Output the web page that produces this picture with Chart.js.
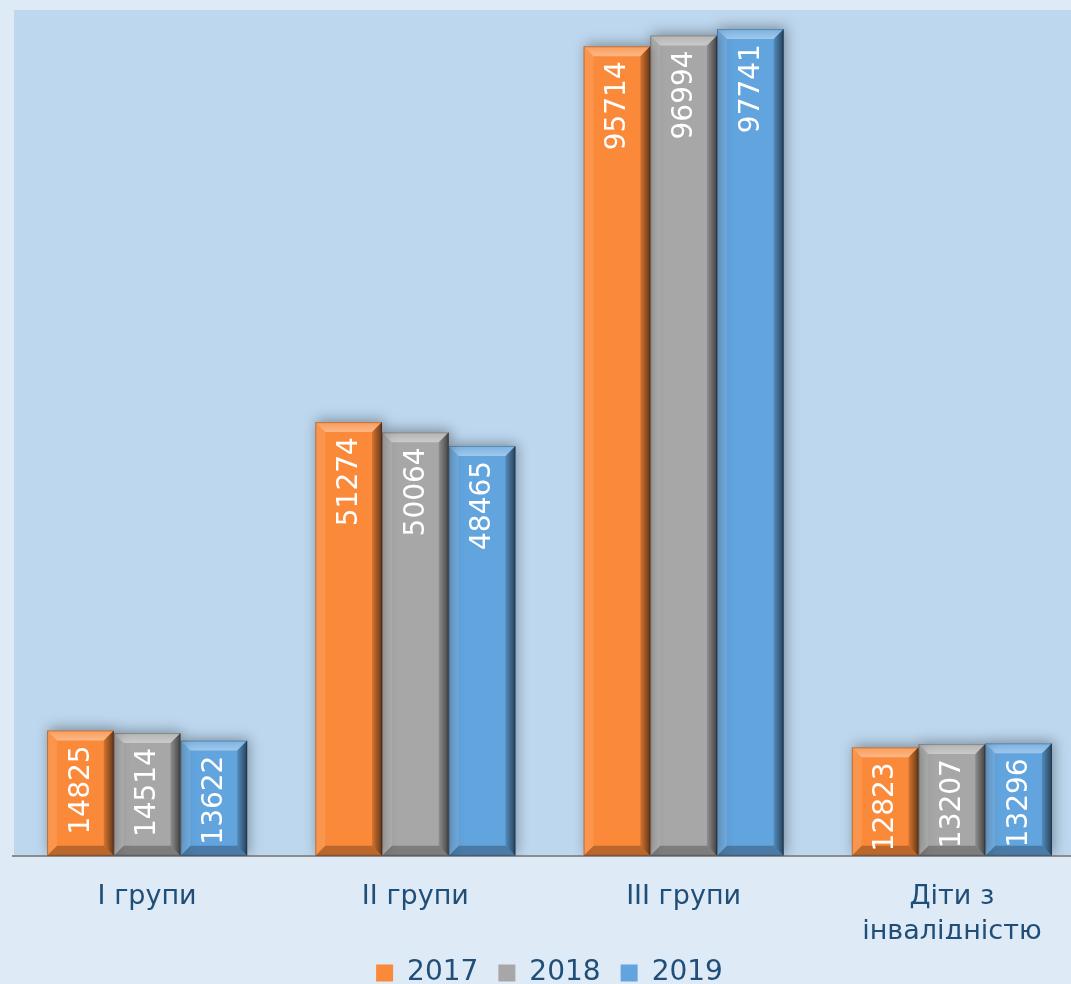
<!DOCTYPE html>
<html>
<head>
<meta charset="utf-8">
<script src="https://cdn.jsdelivr.net/npm/chart.js@4.4.0/dist/chart.umd.min.js"></script>
<style>
  html, body { margin: 0; padding: 0; background: #deeaf6; overflow: hidden; }
  #wrap { width: 1086px; height: 997px; }
</style>
</head>
<body>
<div id="wrap"><canvas id="myChart"></canvas></div>
<script>
// categories & values
var categories = ['I групи', 'II групи', 'III групи', ['Діти з', 'інвалідністю']];
var years = ['2017', '2018', '2019'];
var values2017 = [14825, 51274, 95714, 12823];
var values2018 = [14514, 50064, 96994, 13207];
var values2019 = [13622, 48465, 97741, 13296];
var colors = ['rgb(250, 137, 58)', 'rgb(167, 167, 167)', 'rgb(98, 164, 222)'];

var textBlue = '#1f4e79';
var fontFamily = '"DejaVu Sans", Verdana, sans-serif';

// plot area background
var plotBg = {
  id: 'plotBg',
  beforeDraw: function (chart) {
    var a = chart.chartArea, c = chart.ctx;
    c.save();
    c.fillStyle = '#bdd7ee';
    c.fillRect(a.left + 1, 10, chart.width - a.left, a.bottom - 10);
    c.restore();
  }
};

// soft shadow behind the bars
var barShadow = {
  id: 'barShadow',
  beforeDatasetDraw: function (chart) {
    var c = chart.ctx;
    c.save();
    c.shadowColor = 'rgba(0,0,0,0.35)';
    c.shadowBlur = 12;
    c.shadowOffsetX = 2;
    c.shadowOffsetY = -2;
  },
  afterDatasetDraw: function (chart) {
    chart.ctx.restore();
  }
};

// bevel + rotated value labels
var bevel = {
  id: 'bevel',
  afterDatasetsDraw: function (chart) {
    var c = chart.ctx;
    var b = 10;
    chart.data.datasets.forEach(function (ds, i) {
      var meta = chart.getDatasetMeta(i);
      meta.data.forEach(function (bar, j) {
        var w = bar.width;
        var x = bar.x - w / 2, y = bar.y, h = bar.base - bar.y;
        c.save();
        // top
        var gt = c.createLinearGradient(0, y, 0, y + b);
        gt.addColorStop(0, 'rgba(255,255,255,0.15)');
        gt.addColorStop(1, 'rgba(255,255,255,0.4)');
        c.fillStyle = gt;
        c.beginPath(); c.moveTo(x, y); c.lineTo(x + w, y); c.lineTo(x + w - b, y + b); c.lineTo(x + b, y + b); c.closePath(); c.fill();
        // left
        c.fillStyle = 'rgba(255,255,255,0.1)';
        c.beginPath(); c.moveTo(x, y); c.lineTo(x + b, y + b); c.lineTo(x + b, y + h - b); c.lineTo(x, y + h); c.closePath(); c.fill();
        // right
        var g = c.createLinearGradient(x + w - b, 0, x + w, 0);
        g.addColorStop(0, 'rgba(0,0,0,0.15)');
        g.addColorStop(1, 'rgba(0,0,0,0.6)');
        c.fillStyle = g;
        c.beginPath(); c.moveTo(x + w, y); c.lineTo(x + w, y + h); c.lineTo(x + w - b, y + h - b); c.lineTo(x + w - b, y + b); c.closePath(); c.fill();
        // bottom
        c.fillStyle = 'rgba(0,0,0,0.25)';
        c.beginPath(); c.moveTo(x, y + h); c.lineTo(x + w, y + h); c.lineTo(x + w - b, y + h - b); c.lineTo(x + b, y + h - b); c.closePath(); c.fill();
        // thin outline
        c.strokeStyle = 'rgba(0,0,0,0.25)';
        c.lineWidth = 1;
        c.strokeRect(x + 0.5, y + 0.5, w - 1, h - 1);
        // value label
        c.translate(bar.x, y + 15);
        c.rotate(-Math.PI / 2);
        c.fillStyle = '#ffffff';
        c.font = '28px ' + fontFamily;
        c.textAlign = 'right';
        c.textBaseline = 'middle';
        c.fillText(String(ds.data[j]), 0, 1);
        c.restore();
      });
    });
  }
};

var ctx = document.getElementById('myChart').getContext('2d');

var myChart = new Chart(ctx, {
  type: 'bar',
  data: {
    labels: categories,
    datasets: [
      { label: years[0], data: values2017, backgroundColor: colors[0] },
      { label: years[1], data: values2018, backgroundColor: colors[1] },
      { label: years[2], data: values2019, backgroundColor: colors[2] }
    ]
  },
  options: {
    responsive: true,
    maintainAspectRatio: false,
    animation: false,
    layout: { padding: { left: 13, top: 10, right: 0, bottom: 0 } },
    datasets: {
      bar: { barPercentage: 1, categoryPercentage: 0.746 }
    },
    scales: {
      x: {
        grid: { display: false, drawTicks: false },
        border: { display: true, color: '#8c8c8c', width: 2 },
        ticks: { color: textBlue, font: { family: fontFamily, size: 27, lineHeight: 1.3 }, padding: 24, maxRotation: 0 },
        afterFit: function (scale) { scale.height = scale.height - 35; }
      },
      y: {
        display: false,
        min: 0,
        max: 100000
      }
    },
    plugins: {
      legend: {
        position: 'bottom',
        labels: {
          color: textBlue,
          font: { family: fontFamily, size: 28 },
          boxWidth: 17,
          boxHeight: 17,
          padding: 20
        }
      },
      tooltip: { enabled: false }
    }
  },
  plugins: [plotBg, barShadow, bevel]
});
</script>
</body>
</html>
